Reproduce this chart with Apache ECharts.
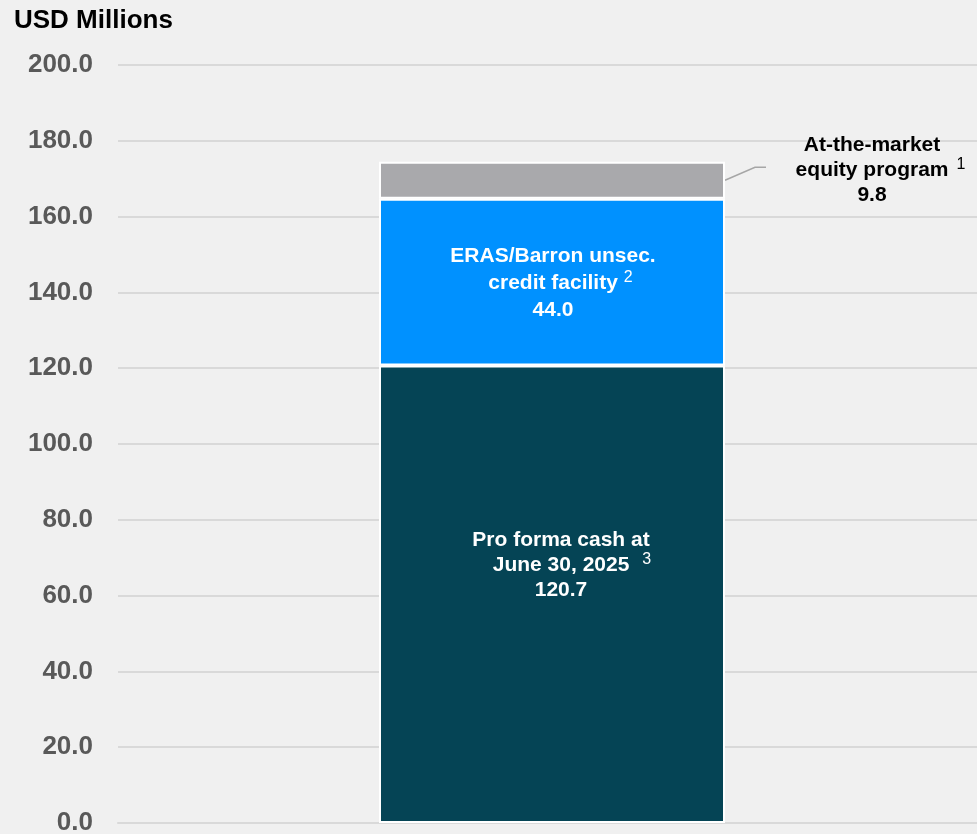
<!DOCTYPE html>
<html>
<head>
<meta charset="utf-8">
<script src="https://cdn.jsdelivr.net/npm/echarts@6/dist/echarts.min.js"></script>
<style>
  html, body { margin: 0; padding: 0; background: #f0f0f0; }
  #chart { width: 977px; height: 834px; }
</style>
</head>
<body>
<div id="chart"></div>
<script>
// values in USD millions
const categories = ["Liquidity"];
const cashValues = [120.7];
const creditValues = [44.0];
const atmValues = [9.8];
const yTicks = [0, 20, 40, 60, 80, 100, 120, 140, 160, 180, 200];

const chart = echarts.init(document.getElementById("chart"));
const font = "Liberation Sans, Arial, sans-serif";

// rich text; superscripts hang outside the centred line, sp balances them on the left
const richStyles = (color, lh, gap, supW) => ({
    b: { fontSize: 21, fontWeight: "bold", color: color, lineHeight: lh, fontFamily: font },
    s: { fontSize: 16, color: color, lineHeight: lh, padding: [0, 0, 12, gap], fontFamily: font },
    sp: { width: supW, lineHeight: lh }
});

const BAR_W = 346;

const option = {
    backgroundColor: "#f0f0f0",
    animation: false,
    title: {
        text: "USD Millions",
        left: 14,
        top: 8,
        padding: 0,
        textStyle: { fontFamily: font, fontSize: 26, fontWeight: "bold", color: "#000" }
    },
    grid: { left: 118, right: -9, top: 65, bottom: 11, outerBoundsMode: "none", containLabel: false },
    xAxis: {
        type: "category",
        data: categories,
        axisLine: { show: true, lineStyle: { color: "#d9d9d9", width: 2 } },
        axisTick: { show: false },
        axisLabel: { show: false }
    },
    yAxis: {
        type: "value",
        min: yTicks[0],
        max: yTicks[yTicks.length - 1],
        interval: 20,
        axisLine: { show: false },
        axisTick: { show: false },
        splitLine: { lineStyle: { color: "#d9d9d9", width: 2 } },
        axisLabel: {
            margin: 25,
            fontFamily: font,
            fontSize: 26,
            fontWeight: "bold",
            color: "#595959",
            formatter: v => v.toFixed(1)
        }
    },
    series: [
        {
            name: "Pro forma cash",
            type: "bar",
            stack: "total",
            data: cashValues,
            barWidth: BAR_W,
            itemStyle: { color: "#054455", borderColor: "#fff", borderWidth: 2 },
            label: {
                show: true,
                position: "inside",
                offset: [9, -29],
                formatter: p => "{b|Pro forma cash at}\n{sp|}{b|June 30, 2025}{s|3}\n{b|" + p.value.toFixed(1) + "}",
                rich: richStyles("#fff", 25, 13, 22)
            }
        },
        {
            name: "ERAS/Barron unsec. credit facility",
            type: "bar",
            stack: "total",
            data: creditValues,
            barWidth: BAR_W,
            itemStyle: { color: "#0091ff", borderColor: "#fff", borderWidth: 2 },
            label: {
                show: true,
                position: "inside",
                offset: [1, 1],
                formatter: p => "{b|ERAS/Barron unsec.}\n{sp|}{b|credit facility}{s|2}\n{b|" + p.value.toFixed(1) + "}",
                rich: richStyles("#fff", 27, 6, 15)
            }
        },
        {
            name: "At-the-market equity program",
            type: "bar",
            stack: "total",
            data: atmValues,
            barWidth: BAR_W,
            itemStyle: { color: "#a9a9ac", borderColor: "#fff", borderWidth: 2 },
            label: {
                show: true,
                position: "right",
                formatter: p => "{b|At-the-market}\n{sp|}{b|equity program}{s|1}\n{b|" + p.value.toFixed(1) + "}",
                rich: richStyles("#000", 25, 8, 17)
            },
            labelLayout: params => {
                const r = params.rect;
                return {
                    x: r.x + r.width + 147,
                    y: r.y + r.height / 2 - 10,
                    align: "center",
                    verticalAlign: "middle"
                };
            }
        }
    ]
};

chart.setOption(option);

// leader line from the grey segment to its label, placed via the axis scales
const atmBase = cashValues[0] + creditValues[0];
const mid = chart.convertToPixel({ seriesIndex: 2 }, [0, atmBase + atmValues[0] / 2]);
const right = mid[0] + BAR_W / 2;
chart.setOption({
    graphic: [{
        type: "polyline",
        silent: true,
        shape: { points: [[right, mid[1]], [right + 30, mid[1] - 13], [right + 41, mid[1] - 13]] },
        style: { stroke: "#a6a6a6", lineWidth: 1.5, fill: null }
    }]
});

window.addEventListener("resize", chart.resize);
</script>
</body>
</html>
